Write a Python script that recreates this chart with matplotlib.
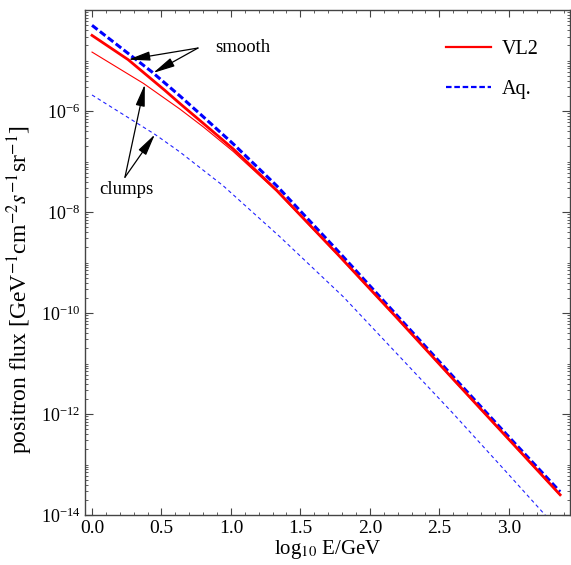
import numpy as np
import matplotlib
matplotlib.use("Agg")
import matplotlib.pyplot as plt
from matplotlib.ticker import FixedLocator, LogFormatterMathtext, MultipleLocator, NullFormatter

plt.rcParams['font.family'] = ['Liberation Serif', 'DejaVu Serif']
plt.rcParams['mathtext.fontset'] = 'stix'
plt.rcParams['lines.scale_dashes'] = False

# log10(E/GeV) and log10(flux)
x_vl2_smooth = [0.0, 0.26, 0.525, 0.633, 0.80, 1.017, 1.33, 1.77, 2.2, 2.6, 3.0, 3.37]
y_vl2_smooth = [-4.50, -4.98, -5.59, -5.85, -6.24, -6.75, -7.57, -8.84, -10.11, -11.31, -12.50, -13.60]

x_vl2_clumps = [0.0, 0.37, 0.633, 0.80, 1.017, 1.33, 1.77, 2.2, 2.6, 3.0, 3.37]
y_vl2_clumps = [-4.83, -5.45, -5.96, -6.31, -6.80, -7.59, -8.85, -10.12, -11.32, -12.51, -13.61]

x_aq_smooth = [0.0, 0.43, 0.633, 0.80, 1.017, 1.33, 1.77, 2.2, 2.6, 3.0, 3.37]
y_aq_smooth = [-4.30, -5.22, -5.70, -6.11, -6.65, -7.48, -8.77, -10.06, -11.26, -12.45, -13.54]

x_aq_clumps = [0.0, 0.453, 0.633, 0.945, 1.353, 1.81, 2.2, 2.6, 3.0, 3.37]
y_aq_clumps = [-5.68, -6.46, -6.81, -7.48, -8.49, -9.68, -10.82, -11.99, -13.20, -14.33]

frame = '#444444'

fig = plt.figure(figsize=(5.71, 5.65), dpi=100)
ax = fig.add_axes([0.149, 0.0885, 0.849, 0.8935])

def flux(y):
    return 10.0 ** np.array(y)

ax.plot(x_vl2_clumps, flux(y_vl2_clumps), color='#ff0000', lw=0.8)
ax.plot(x_aq_clumps, flux(y_aq_clumps), color='#2222ff', lw=0.8, dashes=(2.6, 2.2))
ax.plot(x_aq_smooth, flux(y_aq_smooth), color='#0000ff', lw=2.2, dashes=(5, 2.2))
ax.plot(x_vl2_smooth, flux(y_vl2_smooth), color='#ff0000', lw=2.0)

ax.set_yscale('log')
ax.set_xlim(-0.05, 3.44)
ax.set_ylim(1e-14, 1e-4)

# legend
h1, = ax.plot([], [], color='#ff0000', lw=1.6, label='VL2')
h2, = ax.plot([], [], color='#0000ff', lw=1.6, dashes=(4, 2), label='Aq.')
ax.legend(handles=[h1, h2], loc='upper left', bbox_to_anchor=(0.745, 0.941),
          frameon=False, fontsize=14.5, handlelength=2.2, handletextpad=0.55,
          labelspacing=1.05, borderpad=0, borderaxespad=0)

# annotations
arrow = dict(arrowstyle='-|>,head_length=0.95,head_width=0.2', color='black',
             lw=0.9, shrinkA=0, shrinkB=0, mutation_scale=14)
ax.text(1.086, 10 ** -4.73, 'smooth', fontsize=13.5, ha='center', va='center')
ax.text(0.245, 10 ** -7.56, 'clumps', fontsize=13.5, ha='center', va='center')
for xs, ys, xh in [(x_vl2_smooth, y_vl2_smooth, 0.26), (x_aq_smooth, y_aq_smooth, 0.44)]:
    ax.annotate('', xy=(xh, 10 ** np.interp(xh, xs, ys)), xytext=(0.763, 10 ** -4.75),
                arrowprops=arrow)
for xs, ys, xh in [(x_vl2_clumps, y_vl2_clumps, 0.38), (x_aq_clumps, y_aq_clumps, 0.453)]:
    ax.annotate('', xy=(xh, 10 ** np.interp(xh, xs, ys)), xytext=(0.237, 10 ** -7.31),
                arrowprops=arrow)

ax.set_xlabel(r'log$_{10}$ E/GeV', fontsize=15, labelpad=1)
ax.set_ylabel(r'positron flux [GeV$^{-1}$cm$^{-2}$$s^{-1}$sr$^{-1}$]', fontsize=17)
ax.yaxis.set_label_coords(-0.103, 0.447)

ax.xaxis.set_major_locator(MultipleLocator(0.5))
ax.xaxis.set_minor_locator(MultipleLocator(0.1))
ax.xaxis.set_major_formatter(plt.FuncFormatter(lambda v, p: '%.1f' % v))
ax.yaxis.set_major_locator(FixedLocator([10.0 ** k for k in range(-14, -5, 2)]))
minor = [m * 10.0 ** k for k in range(-14, -4) for m in range(2, 10)] + [10.0 ** k for k in range(-13, -4, 2)]
ax.yaxis.set_minor_locator(FixedLocator(minor))
ax.yaxis.set_major_formatter(LogFormatterMathtext())
ax.yaxis.set_minor_formatter(NullFormatter())

ax.tick_params(which='both', direction='in', top=True, right=True, colors=frame,
               labelcolor='black')
ax.tick_params(axis='x', which='major', length=5, labelsize=14)
ax.tick_params(axis='x', which='minor', length=2.5)
ax.tick_params(axis='y', which='major', length=6, labelsize=13)
ax.tick_params(axis='y', which='minor', length=2.5)
for s in ax.spines.values():
    s.set_color(frame)
    s.set_linewidth(1.0)

fig.savefig('out.png', dpi=100)
